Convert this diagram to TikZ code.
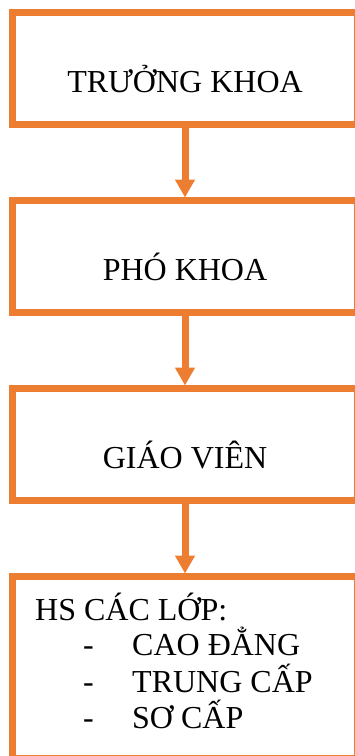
\documentclass[tikz,border=0pt]{standalone}
\usepackage{fontspec}
\setmainfont{Liberation Serif}
\usetikzlibrary{arrows.meta}
\definecolor{boxorange}{HTML}{ED7D31}
\begin{document}
\begin{tikzpicture}[x=1pt,y=-1pt,
  box/.style={draw=boxorange, line width=7pt, fill=white, rectangle, inner sep=0pt, outer sep=0pt, anchor=north west, minimum width=345pt},
  lbl/.style={font=\fontsize{32}{38}\selectfont, inner sep=0pt, anchor=base},
  lblw/.style={font=\fontsize{32}{38}\selectfont, inner sep=0pt, anchor=base west},
  conn/.style={draw=boxorange, line width=7pt, shorten >=3pt, -{Triangle[width=19pt,length=18pt]}}]
\useasboundingbox (0,0) rectangle (355,756);
\node[box, minimum height=112pt] (b1) at (12.5,12.5) {};
\node[box, minimum height=111.5pt] (b2) at (12.5,200.5) {};
\node[box, minimum height=111.5pt] (b3) at (12.5,388.5) {};
\node[box, minimum height=182pt] (b4) at (12.5,576.5) {};
\draw[conn] (b1.south) -- (b2.north);
\draw[conn] (b2.south) -- (b3.north);
\draw[conn] (b3.south) -- (b4.north);
\node[lbl] (t1) at (185,92) {TRƯỞNG KHOA};
\node[lbl] (t2) at (185,280) {PHÓ KHOA};
\node[lbl] (t3) at (185,468) {GIÁO VIÊN};
\node[lblw] (h4) at (35,620) {HS CÁC LỚP:};
\node[lblw] (d1) at (83,655) {-};
\node[lblw] (i1) at (132,655) {CAO ĐẲNG};
\node[lblw] (d2) at (83,692) {-};
\node[lblw] (i2) at (132,692) {TRUNG CẤP};
\node[lblw] (d3) at (83,728) {-};
\node[lblw] (i3) at (132,728) {SƠ CẤP};
\end{tikzpicture}
\end{document}
